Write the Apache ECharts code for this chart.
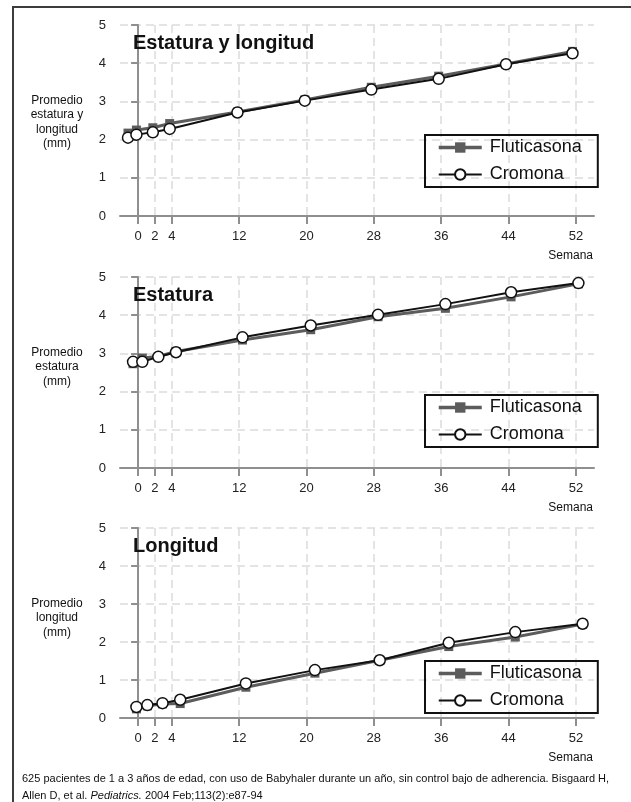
<!DOCTYPE html>
<html>
<head>
<meta charset="utf-8">
<script src="https://cdn.jsdelivr.net/npm/echarts@6/dist/echarts.min.js"></script>
<style>
  html, body { margin: 0; padding: 0; background: #fff; }
  #chart { width: 631px; height: 802px; }
</style>
</head>
<body>
<div id="chart"></div>
<script>
// ticks del eje de semanas
const weekTicks = [0, 2, 4, 12, 20, 28, 36, 44, 52];

// Estatura y longitud
const weeksTop = [-1.2, -0.2, 1.75, 3.75, 11.8, 19.8, 27.7, 35.7, 43.7, 51.6];
const flutiTop = [2.17, 2.25, 2.31, 2.42, 2.72, 3.04, 3.37, 3.66, 3.98, 4.31];
const cromoTop = [2.05, 2.13, 2.19, 2.28, 2.71, 3.02, 3.31, 3.59, 3.97, 4.26];

// Estatura
const weeksMid = [-0.6, 0.5, 2.4, 4.5, 12.4, 20.5, 28.5, 36.5, 44.3, 52.3];
const flutiMid = [2.73, 2.88, 2.92, 3.05, 3.35, 3.62, 3.96, 4.18, 4.48, 4.82];
const cromoMid = [2.78, 2.78, 2.91, 3.03, 3.42, 3.73, 4.01, 4.29, 4.6, 4.84];

// Longitud
const weeksBot = [-0.2, 1.1, 2.9, 5.0, 12.8, 21.0, 28.7, 36.9, 44.8, 52.8];
const flutiBot = [0.24, 0.32, 0.37, 0.38, 0.81, 1.18, 1.52, 1.88, 2.13, 2.47];
const cromoBot = [0.29, 0.34, 0.39, 0.48, 0.91, 1.26, 1.52, 1.98, 2.26, 2.48];

const titles = ['Estatura y longitud', 'Estatura', 'Longitud'];
const yNames = ['Promedio\nestatura y\nlongitud\n(mm)', 'Promedio\nestatura\n(mm)', 'Promedio\nlongitud\n(mm)'];

const FONT = '"Liberation Sans", Arial, sans-serif';
const panels = [
  { top: 25, height: 191, legendTop: 135, weeks: weeksTop, f: flutiTop, c: cromoTop },
  { top: 277, height: 191, legendTop: 395, weeks: weeksMid, f: flutiMid, c: cromoMid },
  { top: 528, height: 190, legendTop: 661, weeks: weeksBot, f: flutiBot, c: cromoBot },
];

const pair = (xs, ys) => xs.map((x, i) => [x, ys[i]]);
const axisGray = '#8f8f8f';

const chart = echarts.init(document.getElementById('chart'), null, { renderer: 'canvas' });

const option = {
  backgroundColor: '#fff',
  animation: false,
  textStyle: { fontFamily: FONT },
  title: panels.map((p, i) => ({
    text: titles[i],
    left: 133,
    top: p.top + 8,
    padding: 0,
    textStyle: { fontSize: 20, fontWeight: 'bold', color: '#111', fontFamily: FONT },
  })),
  legend: panels.map((p) => ({
    data: [
      { name: 'Fluticasona', lineStyle: { width: 3.5, color: '#5c5c5c' } },
      { name: 'Cromona', lineStyle: { width: 2, color: '#111' } },
    ],
    orient: 'vertical',
    left: 425,
    top: p.legendTop,
    itemWidth: 43,
    itemHeight: 13,
    itemGap: 8,
    padding: [3, 16, 3, 12],
    borderColor: '#111',
    borderWidth: 2,
    selectedMode: false,
    textStyle: { fontSize: 18, lineHeight: 19, color: '#111', fontFamily: FONT, padding: [0, 0, 0, 3] },
  })),
  grid: panels.map((p) => ({ left: 120, width: 474, top: p.top, height: p.height })),
  xAxis: panels.map((p, i) => ({
    type: 'value',
    gridIndex: i,
    min: -2.15,
    max: 54.15,
    axisLine: { show: true, lineStyle: { color: axisGray, width: 2 } },
    axisTick: { show: true, customValues: weekTicks, length: 8, lineStyle: { color: axisGray, width: 2 } },
    axisLabel: { customValues: weekTicks, margin: 14, fontSize: 13, color: '#222', fontFamily: FONT },
    splitLine: { show: true, lineStyle: { color: '#dcdcdc', width: 1.5, type: [8, 5] } },
  })),
  yAxis: panels.map((p, i) => ({
    type: 'value',
    gridIndex: i,
    min: 0,
    max: 5,
    interval: 1,
    axisLine: { show: true, lineStyle: { color: axisGray, width: 2 } },
    axisTick: { show: true, length: 7, lineStyle: { color: axisGray, width: 2 } },
    axisLabel: { margin: 14, fontSize: 13, color: '#222', fontFamily: FONT },
    splitLine: { show: true, lineStyle: { color: '#dcdcdc', width: 1.5, type: [8, 5] } },
  })),
  series: panels.flatMap((p, i) => [
    {
      name: 'Fluticasona',
      type: 'line',
      xAxisIndex: i,
      yAxisIndex: i,
      data: pair(p.weeks, p.f),
      symbol: 'rect',
      symbolSize: 9,
      lineStyle: { color: '#5c5c5c', width: 3 },
      itemStyle: { color: '#5c5c5c' },
    },
    {
      name: 'Cromona',
      type: 'line',
      xAxisIndex: i,
      yAxisIndex: i,
      data: pair(p.weeks, p.c),
      symbol: 'circle',
      symbolSize: 11,
      lineStyle: { color: '#111', width: 2 },
      itemStyle: { color: '#fff', borderColor: '#111', borderWidth: 1.5 },
    },
  ]),
  graphic: [
    {
      type: 'polyline',
      shape: { points: [[13, 802], [13, 7], [631, 7]] },
      style: { stroke: '#3c3c3c', lineWidth: 2, fill: null },
    },
    ...panels.map((p, i) => ({
      type: 'text',
      x: 57,
      y: p.top + 68,
      style: {
        text: yNames[i],
        font: '12px ' + FONT,
        lineHeight: 14.5,
        fill: '#111',
        align: 'center',
        textAlign: 'center',
        verticalAlign: 'top',
        textVerticalAlign: 'top',
      },
    })),
    ...panels.map((p) => ({
      type: 'text',
      x: 593,
      y: p.top + p.height + 40,
      style: {
        text: 'Semana',
        font: '12px ' + FONT,
        fill: '#111',
        align: 'right',
        textAlign: 'right',
        verticalAlign: 'middle',
        textVerticalAlign: 'middle',
      },
    })),
    {
      type: 'text',
      x: 22,
      y: 779,
      style: {
        text: '625 pacientes de 1 a 3 años de edad, con uso de Babyhaler durante un año, sin control bajo de adherencia. Bisgaard H,',
        font: '11px ' + FONT,
        fill: '#111',
        verticalAlign: 'middle',
        textVerticalAlign: 'middle',
      },
    },
    {
      type: 'text',
      x: 22,
      y: 796,
      style: {
        text: 'Allen D, et al. {i|Pediatrics.} 2004 Feb;113(2):e87-94',
        font: '11px ' + FONT,
        fill: '#111',
        verticalAlign: 'middle',
        textVerticalAlign: 'middle',
        rich: { i: { fontStyle: 'italic', fontSize: 11, fontFamily: FONT, fill: '#111' } },
      },
    },
  ],
};

chart.setOption(option);
</script>
</body>
</html>
